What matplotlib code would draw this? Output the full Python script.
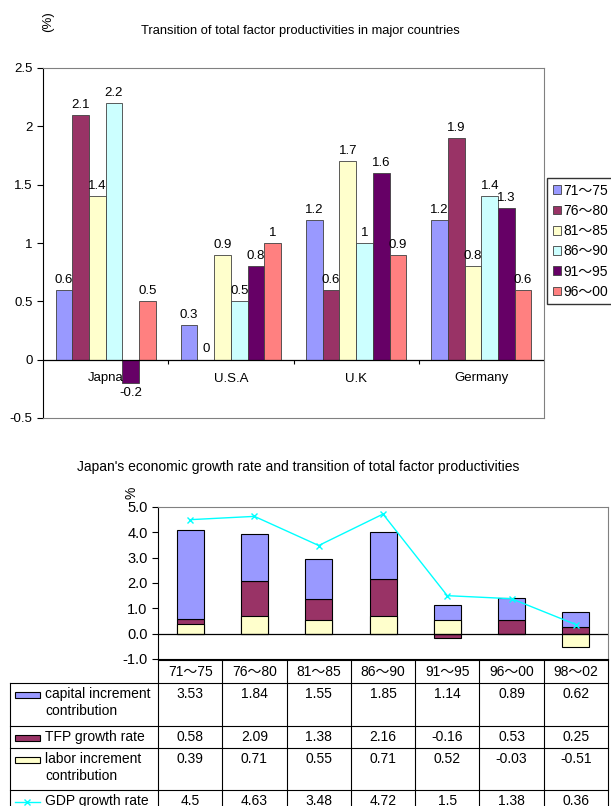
import numpy as np
import matplotlib
matplotlib.use("Agg")
import matplotlib.pyplot as plt
from matplotlib.patches import Rectangle

plt.rcParams['font.family'] = ['Liberation Sans', 'Noto Sans CJK JP']

W, H = 611, 806

# ---- top chart data
countries = ["Japna", "U.S.A", "U.K", "Germany"]
periods = ["71～75", "76～80", "81～85", "86～90", "91～95", "96～00"]
p71_75 = [0.6, 0.3, 1.2, 1.2]
p76_80 = [2.1, 0, 0.6, 1.9]
p81_85 = [1.4, 0.9, 1.7, 0.8]
p86_90 = [2.2, 0.5, 1, 1.4]
p91_95 = [-0.2, 0.8, 1.6, 1.3]
p96_00 = [0.5, 1, 0.9, 0.6]
period_colors = ["#9999FF", "#993366", "#FFFFCC", "#CCFFFF", "#660066", "#FF8080"]

# ---- bottom chart data
spans = ["71～75", "76～80", "81～85", "86～90", "91～95", "96～00", "98～02"]
capital = [3.53, 1.84, 1.55, 1.85, 1.14, 0.89, 0.62]
tfp = [0.58, 2.09, 1.38, 2.16, -0.16, 0.53, 0.25]
labor = [0.39, 0.71, 0.55, 0.71, 0.52, -0.03, -0.51]
gdp = [4.5, 4.63, 3.48, 4.72, 1.5, 1.38, 0.36]
row_names = ["capital increment\ncontribution", "TFP growth rate",
             "labor increment\ncontribution", "GDP growth rate"]


def px_axes(fig, l, t, r, b):
    return fig.add_axes([l / W, 1 - b / H, (r - l) / W, (b - t) / H])


fig = plt.figure(figsize=(W / 100, H / 100), dpi=100)

# ================= top chart
ax = px_axes(fig, 43, 68, 544, 418)
series = [p71_75, p76_80, p81_85, p86_90, p91_95, p96_00]
x = np.arange(len(countries))
bw = 0.8 / len(series)
for i, vals in enumerate(series):
    xs = x + (i - 2.5) * bw
    ax.bar(xs, vals, bw, color=period_colors[i], edgecolor="#404040",
           linewidth=0.6, label=periods[i], zorder=2)
    for xx, v in zip(xs, vals):
        ax.annotate(f"{v:g}", (xx, v), xytext=(0, 3 if v >= 0 else -3),
                    textcoords="offset points", ha="center",
                    va="bottom" if v >= 0 else "top", fontsize=9.5, zorder=3)
ax.set_xlim(-0.5, len(countries) - 0.5)
ax.set_ylim(-0.5, 2.5)
ax.set_yticks(np.arange(-0.5, 2.51, 0.5))
ax.set_yticklabels([f"{v:g}" for v in np.arange(-0.5, 2.51, 0.5)], fontsize=9.5)
ax.set_xticks([])
ax.tick_params(axis="y", direction="out", length=4, width=0.8)
for s in ["top", "right", "bottom"]:
    ax.spines[s].set_color("#808080")
ax.spines["left"].set_color("black")
ax.axhline(0, color="black", lw=0.9, zorder=4)
ax.vlines(x[:-1] + 0.5, -0.035, 0, color="black", lw=0.8)
for xx, name in zip(x, countries):
    ax.text(xx, -0.11, name, ha="center", va="top", fontsize=9.5)

fig.text(300 / W, 1 - 31 / H, "Transition of total factor productivities in major countries",
         ha="center", va="center", fontsize=9.3)
fig.text(48 / W, 1 - 22 / H, "(%)", rotation=90, ha="center", va="center", fontsize=9.5)

fig.legend(*ax.get_legend_handles_labels(), loc="upper left",
           bbox_to_anchor=(547 / W, 1 - 178 / H), borderaxespad=0, fontsize=10,
           frameon=True, fancybox=False, edgecolor="black", handlelength=0.6,
           handleheight=0.6, handletextpad=0.2, labelspacing=0.45, borderpad=0.4)

# ================= bottom chart
bx = px_axes(fig, 158, 507, 608, 659)
xb = np.arange(len(spans))
bbw = 0.42
cap_bottom = [max(t, 0) for t in tfp]
bx.bar(xb, tfp, bbw, color="#993366", edgecolor="black", linewidth=0.8, zorder=2)
bx.bar(xb, capital, bbw, bottom=cap_bottom, color="#9999FF", edgecolor="black",
       linewidth=0.8, zorder=2)
bx.bar(xb, labor, bbw, color="#FFFFCC", edgecolor="black", linewidth=0.8, zorder=3)
bx.plot(xb, gdp, color="#00FFFF", lw=1, marker="x", ms=5, mew=1, zorder=5)
bx.axhline(0, color="black", lw=0.9, zorder=4)
bx.set_xlim(-0.5, len(spans) - 0.5)
bx.set_ylim(-1, 5)
bx.set_yticks(np.arange(-1, 5.1, 1))
bx.set_yticklabels([f"{v:.1f}" for v in np.arange(-1, 5.1, 1)], fontsize=10.5)
bx.set_xticks([])
bx.tick_params(axis="y", direction="out", length=4, width=0.8)
for s in ["top", "right"]:
    bx.spines[s].set_color("#808080")

fig.text(298 / W, 1 - 467 / H,
         "Japan's economic growth rate and transition of total factor productivities",
         ha="center", va="center", fontsize=10)
fig.text(131 / W, 1 - 493 / H, "%", rotation=90, ha="center", va="center", fontsize=10)

# ---- data table under the chart
tx = fig.add_axes([0, 0, 1, 1])
tx.set_xlim(0, W)
tx.set_ylim(H, 0)
tx.axis("off")
left, c0, right = 10, 158, 608
cw = (right - c0) / len(spans)
rows_y = [660, 683, 726, 748, 790, 820]
lk = dict(color="black", lw=0.8, clip_on=False)
tx.plot([c0, right], [rows_y[0], rows_y[0]], **lk)
for yy in rows_y[1:-1]:
    tx.plot([left, right], [yy, yy], **lk)
tx.plot([left, left], [rows_y[1], rows_y[-1]], **lk)
for j in range(len(spans) + 1):
    xx = c0 + j * cw
    tx.plot([xx, xx], [rows_y[0], rows_y[-1]], **lk)
for j, sp in enumerate(spans):
    tx.text(c0 + (j + 0.5) * cw, 672, sp, ha="center", va="center", fontsize=10)

row_vals = [capital, tfp, labor, gdp]
row_keys = ["#9999FF", "#993366", "#FFFFCC", None]
for r, (name, vals, kc) in enumerate(zip(row_names, row_vals, row_keys)):
    ytop = rows_y[r + 1] + 4
    if kc is not None:
        tx.add_patch(Rectangle((15, ytop + 5), 25, 6, facecolor=kc,
                               edgecolor="black", lw=0.8))
    else:
        tx.plot([15, 40], [ytop + 8, ytop + 8], color="#00FFFF", lw=1)
        tx.plot([27], [ytop + 8], color="#00FFFF", marker="x", ms=4)
    tx.text(45, ytop, name, ha="left", va="top", fontsize=10, linespacing=1.3)
    for j, v in enumerate(vals):
        tx.text(c0 + (j + 0.5) * cw, ytop, f"{v:g}", ha="center", va="top",
                fontsize=10)

fig.savefig("out.png", dpi=100)
